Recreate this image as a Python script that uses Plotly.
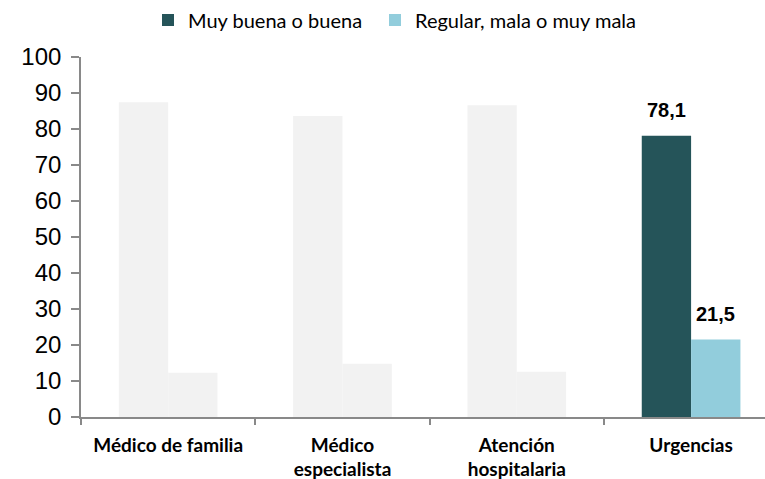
import plotly.graph_objects as go

categories = ["Médico de familia", "Médico<br>especialista", "Atención<br>hospitalaria", "Urgencias"]
series_names = ["Muy buena o buena", "Regular, mala o muy mala"]
buena = [87.4, 83.6, 86.6, 78.1]
regular = [12.3, 14.8, 12.6, 21.5]
highlight = 3  # only this category is coloured and labelled

series_values = [buena, regular]
series_colors = ["#255459", "#92CDDC"]
grey = "#F2F2F2"
bargap = 0.434
legend_ids = ["legend", "legend2"]

fig = go.Figure()
for j, (name, vals, col) in enumerate(zip(series_names, series_values, series_colors)):
    og = "s%d" % j
    xs_grey = [c for i, c in enumerate(categories) if i != highlight]
    ys_grey = [v for i, v in enumerate(vals) if i != highlight]
    fig.add_trace(go.Bar(x=xs_grey, y=ys_grey, marker=dict(color=grey, line=dict(width=0)),
                         offsetgroup=og, showlegend=False, hoverinfo="skip", name=name))
    fig.add_trace(go.Bar(x=[categories[highlight]], y=[vals[highlight]], name=name,
                         marker=dict(color=col, line=dict(width=0)), offsetgroup=og,
                         showlegend=True, legend=legend_ids[j]))
    # value label above the highlighted bar
    xpos = highlight + (j - 0.5) * (1 - bargap) / 2
    fig.add_annotation(x=xpos, y=vals[highlight], xref="x", yref="y",
                       text="<b>%s</b>" % ("%.1f" % vals[highlight]).replace(".", ","),
                       showarrow=False, yanchor="bottom", yshift=13,
                       font=dict(family="Liberation Sans, Arial", size=20, color="#000000"))

legend_style = dict(orientation="h", xref="container", yref="container",
                    y=1 - 20 / 479, xanchor="left", yanchor="middle",
                    font=dict(family="Lato", size=20, color="#000000"))

fig.update_layout(
    width=765, height=479,
    margin=dict(l=81, r=0, t=57, b=62, autoexpand=False),
    paper_bgcolor="white", plot_bgcolor="white",
    barmode="group", bargap=bargap, bargroupgap=0,
    legend=dict(x=148 / 765, **legend_style),
    legend2=dict(x=375 / 765, **legend_style),
    xaxis=dict(type="category", range=[-0.5, 3.424], showline=True, linecolor="#898989", linewidth=1.6,
               ticks="outside", tickson="boundaries", ticklen=6, tickcolor="#898989", tickwidth=1.6,
               showgrid=False, ticklabelstandoff=10, automargin=False,
               tickfont=dict(family="Lato", size=19, color="#000000", weight="bold")),
    yaxis=dict(range=[0, 100], tickvals=list(range(0, 101, 10)), showline=True, linecolor="#898989",
               linewidth=1.6, ticks="outside", ticklen=8, tickcolor="#898989", tickwidth=1.6,
               showgrid=False, zeroline=False, ticklabelstandoff=5, automargin=False,
               tickfont=dict(family="Liberation Sans, Arial", size=24, color="#000000")),
)

fig.write_html("out.html", config={"displayModeBar": False},
               post_script="document.body.style.margin='0px';")
